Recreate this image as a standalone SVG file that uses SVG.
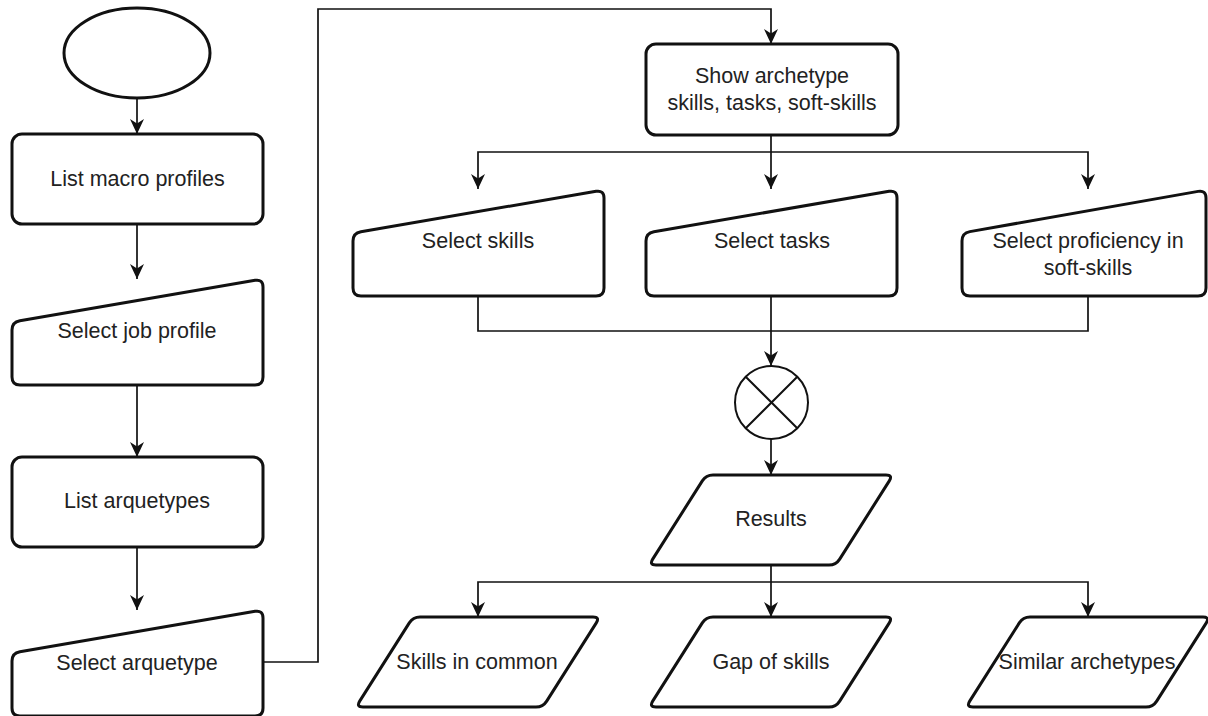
<svg xmlns="http://www.w3.org/2000/svg" width="1208" height="716" viewBox="0 0 1208 716">
<style>
.shape{fill:#fff;stroke:#111;stroke-width:3;stroke-linejoin:round}
.thin{fill:#fff;stroke:#111;stroke-width:2}
.edge{fill:none;stroke:#111;stroke-width:1.7}
.lbl{font-family:"Liberation Sans",Arial,sans-serif;font-size:21.5px;fill:#222;text-anchor:middle}
</style>
<defs>
<marker id="arr" markerUnits="userSpaceOnUse" markerWidth="17" markerHeight="16" refX="15" refY="7" orient="auto">
<path d="M0,0 L15,7 L0,14 L4.5,7 Z" fill="#111"/>
</marker>
<path id="manual" d="M7.9,41.65 L243.1,1.35 Q251,0 251,8 L251,98 Q251,106 243,106 L8,106 Q0,106 0,98 L0,51 Q0,43 7.9,41.65 Z"/>
<path id="para" d="M-58,0 L115,0 Q122,0 118.3,5.9 L68.7,84.1 Q65,90 58,90 L-115,90 Q-122,90 -118.3,84.1 L-68.7,5.9 Q-65,0 -58,0 Z"/>
</defs>
<rect width="1208" height="716" fill="#fff"/>
<g id="connectors">
<path class="edge" d="M137,98 L137,134" marker-end="url(#arr)"/>
<path class="edge" d="M137,224 L137,279" marker-end="url(#arr)"/>
<path class="edge" d="M137,385 L137,457" marker-end="url(#arr)"/>
<path class="edge" d="M137,547 L137,610" marker-end="url(#arr)"/>
<path class="edge" d="M263,662 L318,662 L318,9 L771,9 L771,44" marker-end="url(#arr)"/>
<path class="edge" d="M771,135 L771,189" marker-end="url(#arr)"/>
<path class="edge" d="M771,152 L478,152 L478,189" marker-end="url(#arr)"/>
<path class="edge" d="M771,152 L1088,152 L1088,189" marker-end="url(#arr)"/>
<path class="edge" d="M478,296 L478,331 L1088,331 L1088,296"/>
<path class="edge" d="M771,296 L771,366" marker-end="url(#arr)"/>
<path class="edge" d="M771,439 L771,475" marker-end="url(#arr)"/>
<path class="edge" d="M771,565 L771,617" marker-end="url(#arr)"/>
<path class="edge" d="M771,582 L478,582 L478,617" marker-end="url(#arr)"/>
<path class="edge" d="M771,582 L1088,582 L1088,617" marker-end="url(#arr)"/>
</g>
<g id="start">
<ellipse class="shape" cx="137" cy="53" rx="73" ry="45"/>
</g>
<g id="list-macro-profiles">
<rect class="shape" x="12" y="134" width="251" height="90" rx="10"/>
<text class="lbl" x="137.5" y="186">List macro profiles</text>
</g>
<g id="select-job-profile">
<use class="shape" href="#manual" transform="translate(12,279)"/>
<text class="lbl" x="137" y="338">Select job profile</text>
</g>
<g id="list-arquetypes">
<rect class="shape" x="12" y="457" width="251" height="90" rx="10"/>
<text class="lbl" x="137" y="508">List arquetypes</text>
</g>
<g id="select-arquetype">
<use class="shape" href="#manual" transform="translate(12,610)"/>
<text class="lbl" x="137" y="670">Select arquetype</text>
</g>
<g id="show-archetype">
<rect class="shape" x="646" y="44" width="252" height="91" rx="10"/>
<text class="lbl" x="772" y="83">Show archetype</text>
<text class="lbl" x="772" y="110">skills, tasks, soft-skills</text>
</g>
<g id="select-skills">
<use class="shape" href="#manual" transform="translate(353,190)"/>
<text class="lbl" x="478" y="248">Select skills</text>
</g>
<g id="select-tasks">
<use class="shape" href="#manual" transform="translate(646,190)"/>
<text class="lbl" x="772" y="248">Select tasks</text>
</g>
<g id="select-proficiency">
<path class="shape" transform="translate(962,190)" d="M7.88,41.61 L236.12,1.39 Q244,0 244,8 L244,98 Q244,106 236,106 L8,106 Q0,106 0,98 L0,51 Q0,43 7.88,41.61 Z"/>
<text class="lbl" x="1088" y="248">Select proficiency in</text>
<text class="lbl" x="1088" y="275">soft-skills</text>
</g>
<g id="or-gate">
<circle class="thin" cx="771.5" cy="402.5" r="36.5"/>
<path class="thin" d="M745.7,376.7 L797.3,428.3 M797.3,376.7 L745.7,428.3" fill="none"/>
</g>
<g id="results">
<use class="shape" href="#para" transform="translate(771,475)"/>
<text class="lbl" x="771" y="526">Results</text>
</g>
<g id="skills-in-common">
<use class="shape" href="#para" transform="translate(478,617)"/>
<text class="lbl" x="477" y="669">Skills in common</text>
</g>
<g id="gap-of-skills">
<use class="shape" href="#para" transform="translate(771,617)"/>
<text class="lbl" x="771" y="669">Gap of skills</text>
</g>
<g id="similar-archetypes">
<use class="shape" href="#para" transform="translate(1088,617)"/>
<text class="lbl" x="1087" y="669">Similar archetypes</text>
</g>
</svg>
